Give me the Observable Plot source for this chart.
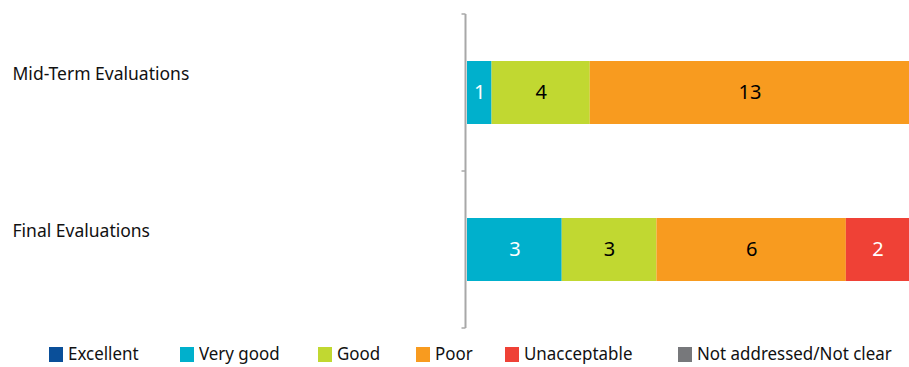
<!DOCTYPE html>
<html>
<head>
<meta charset="utf-8">
<script src="https://cdn.jsdelivr.net/npm/d3@7"></script>
<script src="https://cdn.jsdelivr.net/npm/@observablehq/plot@0.6"></script>
<style>
  html, body { margin: 0; padding: 0; background: #fff; }
  #chart { width: 909px; }
  .legend { position: relative; height: 22px; margin-top: 6px; font-family: "Noto Sans", sans-serif; font-size: 18px; color: #111; line-height: 22px; white-space: nowrap; }
  .legend .item { position: absolute; top: 0; display: flex; align-items: center; height: 22px; }
  .legend .sw { width: 14px; height: 15px; display: inline-block; margin-top: 2px; }
  .legend .lbl { display: inline-block; margin-left: 5px; transform: scaleX(0.94); transform-origin: left center; }
</style>
</head>
<body>
<div id="chart"></div>
<script>
// Evaluation groups and the rating categories, in stacking order
const groups = ["Mid-Term Evaluations", "Final Evaluations"];
const ratings = ["Excellent", "Very good", "Good", "Poor", "Unacceptable", "Not addressed/Not clear"];
const colors = ["#0a4f99", "#00b0cc", "#c1d831", "#f89b1f", "#ef4136", "#77787b"];
const labelColors = ["#fff", "#fff", "#000", "#000", "#fff", "#fff"];

// Number of evaluations per rating
const midTermCounts = [0, 1, 4, 13, 0, 0];
const finalCounts = [0, 3, 3, 6, 2, 0];

const rows = [];
[midTermCounts, finalCounts].forEach((counts, gi) => {
  counts.forEach((n, ri) => {
    if (n > 0) rows.push({group: groups[gi], rating: ratings[ri], count: n});
  });
});

// Vertical axis line with small ticks at the band boundaries
function bandAxis(index, scales, values, dimensions) {
  const y = scales.y;
  const step = y.step();
  const x0 = dimensions.marginLeft - 1.5;
  const edges = groups.map(g => y(g) - (step - y.bandwidth()) / 2);
  edges.push(edges[edges.length - 1] + step);
  const g = d3.create("svg:g").attr("stroke", "#a8a8a8").attr("fill", "none");
  g.append("line").attr("x1", x0).attr("x2", x0)
    .attr("y1", edges[0]).attr("y2", edges[edges.length - 1]).attr("stroke-width", 2);
  for (const e of edges) {
    g.append("line").attr("x1", x0 - 4).attr("x2", x0).attr("y1", e).attr("y2", e).attr("stroke-width", 1.5);
  }
  return g.node();
}

const stackOpts = {x: "count", y: "group", z: "rating", order: ratings, offset: "normalize"};

const plot = Plot.plot({
  width: 909,
  height: 336,
  marginTop: 14,
  marginBottom: 8,
  marginLeft: 467,
  marginRight: 0,
  style: {fontFamily: "'Noto Sans', sans-serif", background: "#fff"},
  x: {axis: null},
  y: {domain: groups, axis: null, paddingInner: 0.6, paddingOuter: 0.3},
  color: {domain: ratings, range: colors},
  marks: [
    Plot.barX(rows, Plot.stackX({...stackOpts, fill: "rating"})),
    Plot.text(rows, Plot.stackX({
      ...stackOpts,
      text: d => String(d.count),
      fill: d => labelColors[ratings.indexOf(d.rating)],
      fontSize: 20
    })),
    Plot.text(groups, {
      y: d => d, text: d => d, frameAnchor: "left", textAnchor: "start",
      dx: -455, dy: -19, fontSize: 17.5, fill: "#111"
    }),
    bandAxis
  ]
});

document.getElementById("chart").appendChild(plot);

// Legend below the chart
const legendLeft = [49, 180, 318, 416, 505, 678];
const legend = document.createElement("div");
legend.className = "legend";
ratings.forEach((r, i) => {
  const item = document.createElement("span");
  item.className = "item";
  item.style.left = legendLeft[i] + "px";
  const sw = document.createElement("span");
  sw.className = "sw";
  sw.style.background = colors[i];
  const t = document.createElement("span");
  t.className = "lbl";
  t.textContent = r;
  item.appendChild(sw);
  item.appendChild(t);
  legend.appendChild(item);
});
document.getElementById("chart").appendChild(legend);
</script>
</body>
</html>
